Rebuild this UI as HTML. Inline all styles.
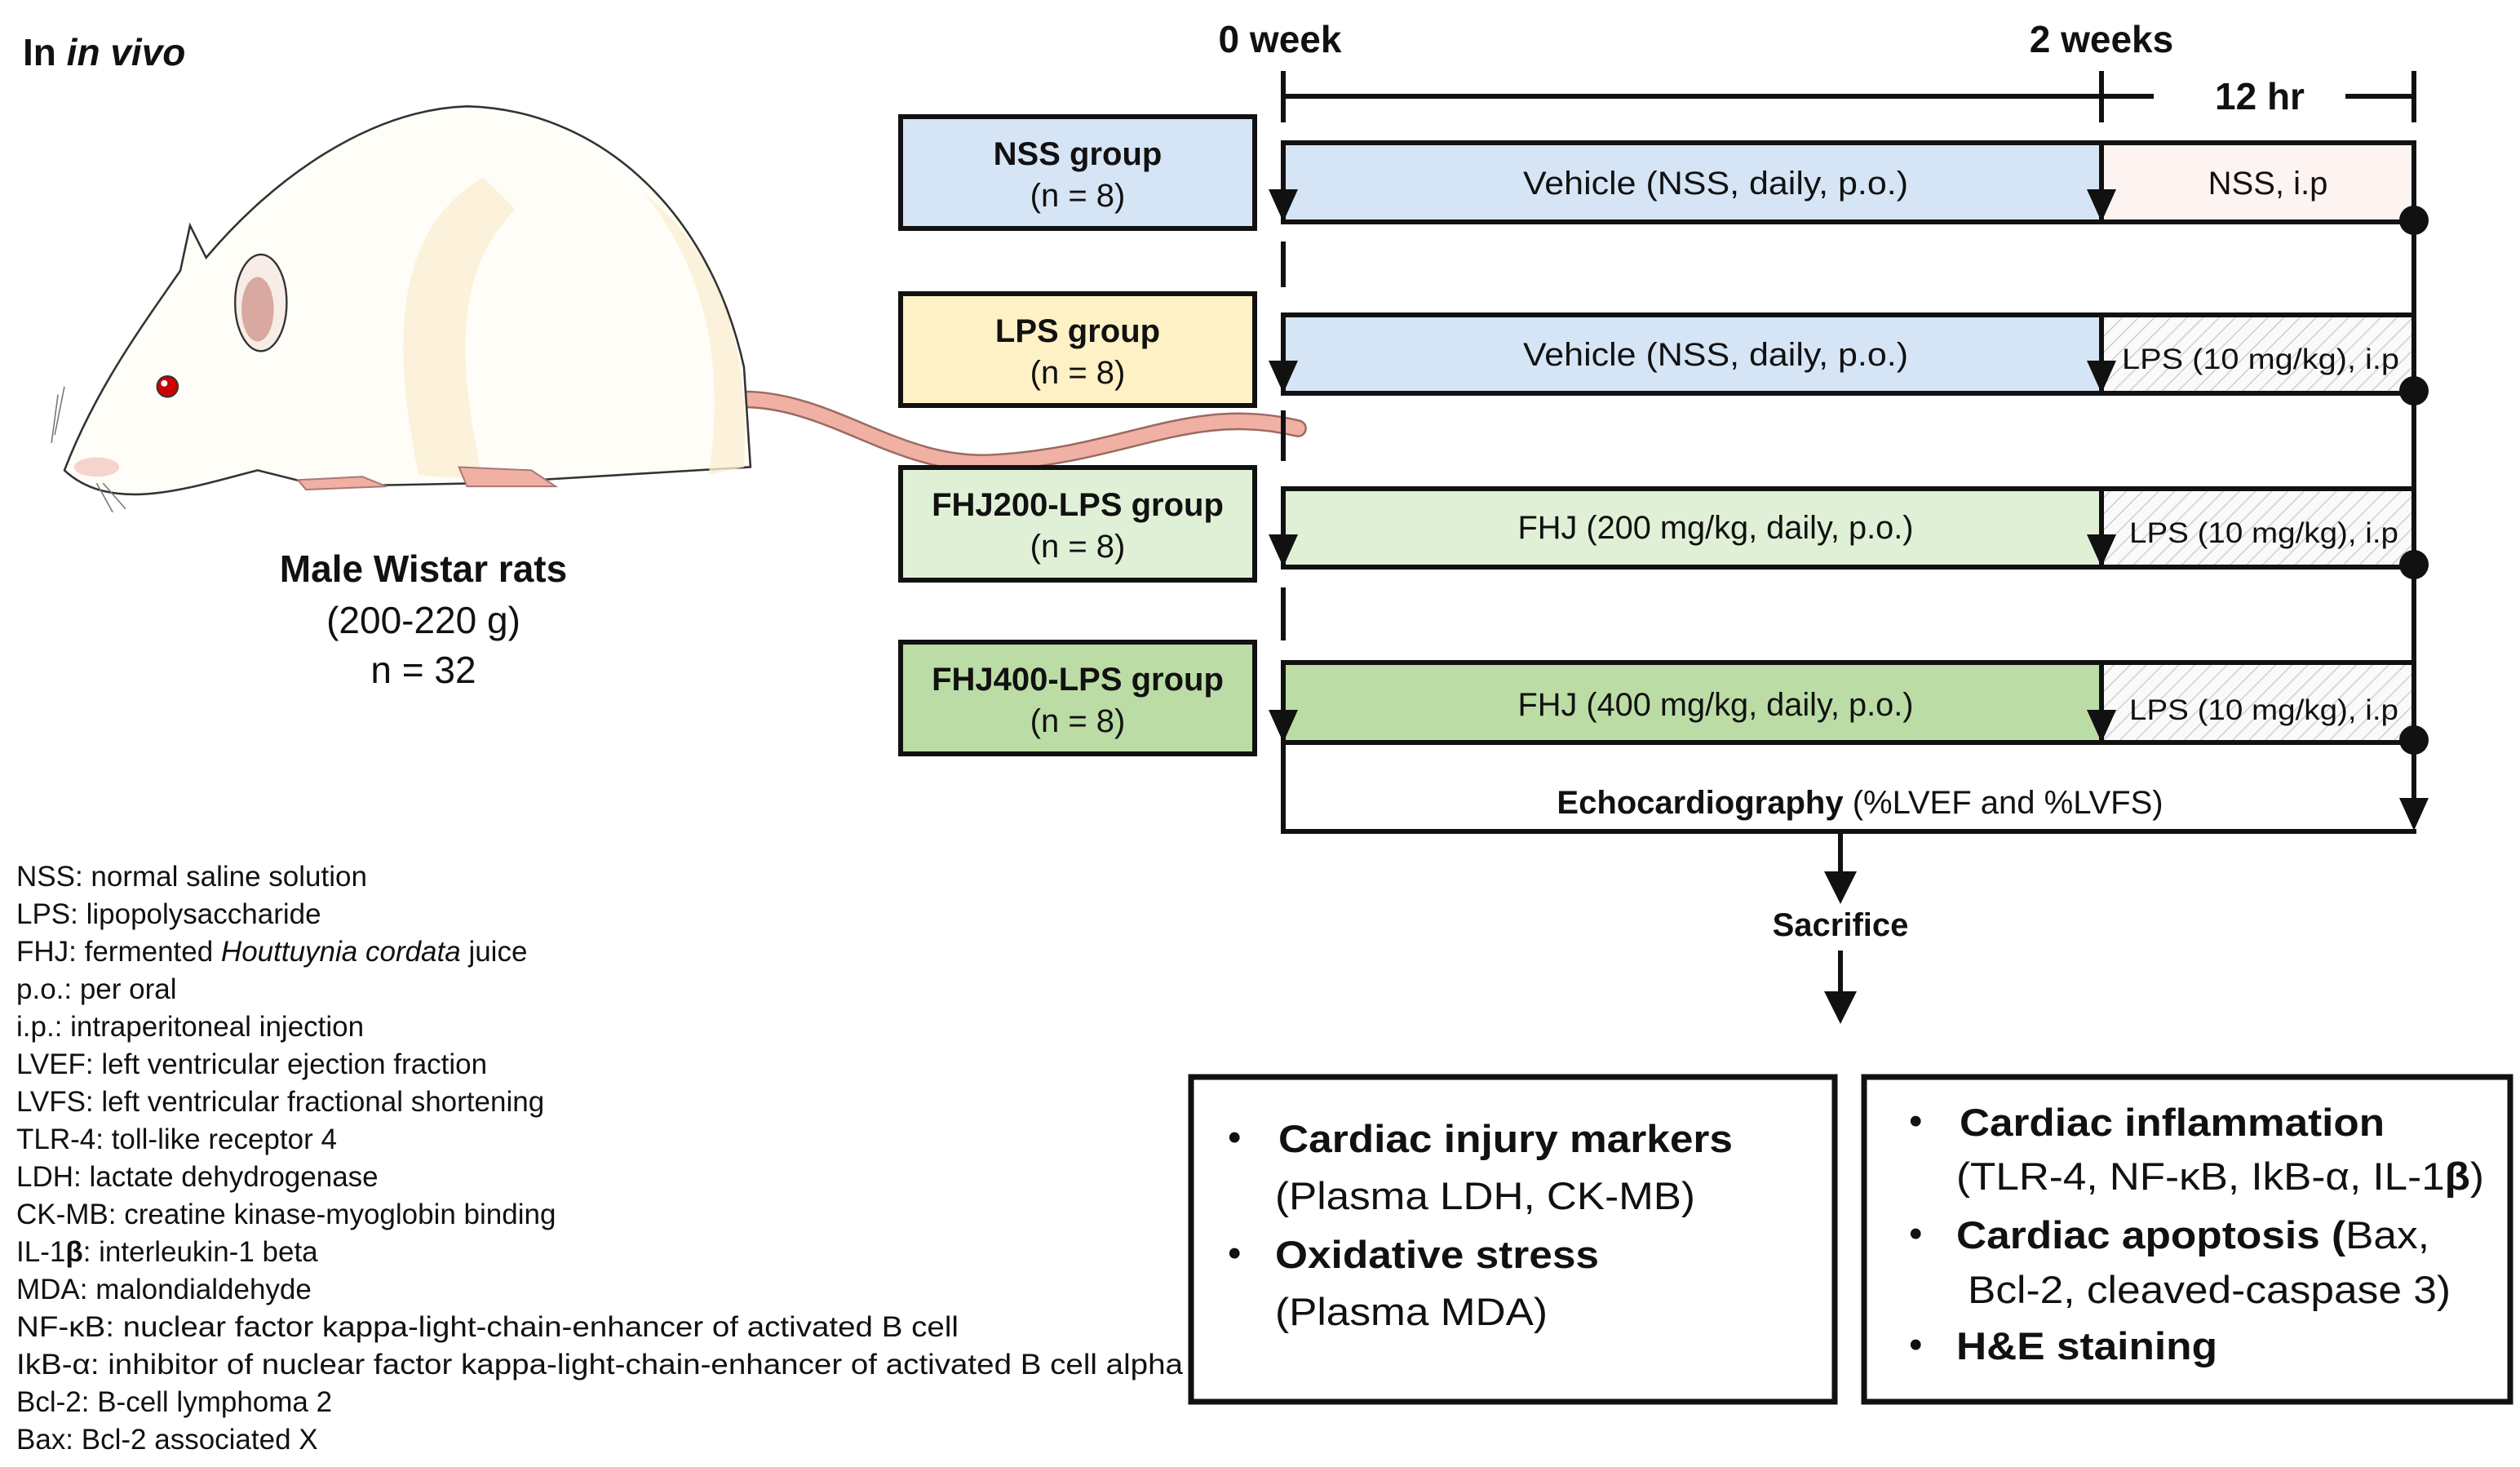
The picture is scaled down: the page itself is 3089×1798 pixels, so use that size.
<!DOCTYPE html>
<html><head><meta charset="utf-8"><style>
html,body{margin:0;padding:0;background:#fff}
svg{display:block}
text{font-family:"Liberation Sans",Arial,sans-serif;fill:#111}
.b{font-weight:bold}
</style></head><body>
<svg width="3089" height="1798" viewBox="0 0 3089 1798" xmlns="http://www.w3.org/2000/svg">
<defs>
<pattern id="hatch" width="14" height="14" patternUnits="userSpaceOnUse" patternTransform="rotate(45)">
<rect width="14" height="14" fill="#fafafa"/><line x1="0" y1="0" x2="0" y2="14" stroke="#cfcfcf" stroke-width="3"/>
</pattern>
</defs>

<text x="28" y="80" font-size="46" class="b">In <tspan font-style="italic">in vivo</tspan></text>

<!-- rat -->
<g transform="scale(1.974)">
<path d="M465,248 C520,250 560,292 620,287 C700,282 740,250 806,266" fill="none" stroke="#9a6a60" stroke-width="11" stroke-linecap="round"/>
<path d="M465,248 C520,250 560,292 620,287 C700,282 740,250 806,266" fill="none" stroke="#f0b0a3" stroke-width="8.5" stroke-linecap="round"/>
<path d="M40,292 C60,240 90,200 112,168 L118,140 L128,160 C170,110 230,68 290,66 C370,68 440,128 462,228 L466,290 L300,300 L200,302 L160,292 C120,302 70,320 40,292 Z" fill="#fffdf7" stroke="#333" stroke-width="1.3"/>
<path d="M300,110 C250,140 240,200 260,295 L300,298 C285,230 280,170 320,130 Z" fill="#fbefd3" opacity="0.8"/>
<path d="M400,120 C440,170 450,230 440,295 L462,290 C466,220 450,160 400,120 Z" fill="#fbefd3" opacity="0.8"/>
<ellipse cx="162" cy="188" rx="16" ry="30" fill="#f7ece6" stroke="#333" stroke-width="1.2"/>
<ellipse cx="160" cy="192" rx="10" ry="20" fill="#d9a8a0"/>
<circle cx="104" cy="240" r="6.5" fill="#c00" stroke="#333" stroke-width="1"/>
<circle cx="102" cy="238" r="2" fill="#fff"/>
<ellipse cx="60" cy="290" rx="14" ry="6" fill="#f6d3cc"/>
<path d="M185,298 L225,296 L240,302 L190,304 Z" fill="#f0b0a3" stroke="#a77" stroke-width="1"/>
<path d="M285,290 L330,292 L345,302 L290,302 Z" fill="#f0b0a3" stroke="#a77" stroke-width="1"/>
<path d="M40,240 L34,270 M36,245 L32,275 M60,300 L70,318 M64,300 L78,316" stroke="#777" stroke-width="0.8" fill="none"/>
</g>

<text x="519" y="713" font-size="46" class="b" text-anchor="middle">Male Wistar rats</text>
<text x="519" y="776" font-size="46" text-anchor="middle">(200-220 g)</text>
<text x="519" y="837" font-size="46" text-anchor="middle">n = 32</text>

<!-- group boxes -->
<g stroke="#111" stroke-width="6">
<rect x="1104" y="143" width="434" height="137" fill="#d6e5f5"/>
<rect x="1104" y="360" width="434" height="137" fill="#fdf1c5"/>
<rect x="1104" y="573" width="434" height="138" fill="#dff0d6"/>
<rect x="1104" y="787" width="434" height="137" fill="#bcdca5"/>
</g>
<g font-size="40" text-anchor="middle">
<text x="1321" y="202" class="b">NSS group</text><text x="1321" y="253">(n = 8)</text>
<text x="1321" y="419" class="b">LPS group</text><text x="1321" y="470">(n = 8)</text>
<text x="1321" y="632" class="b">FHJ200-LPS group</text><text x="1321" y="683">(n = 8)</text>
<text x="1321" y="846" class="b">FHJ400-LPS group</text><text x="1321" y="897">(n = 8)</text>
</g>

<!-- timeline header -->
<g font-size="46" class="b" text-anchor="middle">
<text x="1569" y="64">0 week</text>
<text x="2576" y="64">2 weeks</text>
<text x="2770" y="134">12 hr</text>
</g>
<g stroke="#111" stroke-width="6" fill="none">
<line x1="1573" y1="118" x2="2640" y2="118"/>
<line x1="2875" y1="118" x2="2959" y2="118"/>
<line x1="1573" y1="87" x2="1573" y2="150"/>
<line x1="2576" y1="87" x2="2576" y2="150"/>
<line x1="2959" y1="87" x2="2959" y2="150"/>
</g>

<!-- rows -->
<g stroke="#111" stroke-width="6">
<rect x="1573" y="175" width="1003" height="97" fill="#d6e5f5"/>
<rect x="2576" y="175" width="383" height="97" fill="#fdf3f0"/>
<rect x="1573" y="386" width="1003" height="96" fill="#d6e5f5"/>
<rect x="2576" y="386" width="383" height="96" fill="url(#hatch)"/>
<rect x="1573" y="599" width="1003" height="96" fill="#dff0d6"/>
<rect x="2576" y="599" width="383" height="96" fill="url(#hatch)"/>
<rect x="1573" y="812" width="1003" height="98" fill="#bcdca5"/>
<rect x="2576" y="812" width="383" height="98" fill="url(#hatch)"/>
</g>
<g font-size="40" text-anchor="middle">
<text x="2103" y="238" textLength="472" lengthAdjust="spacingAndGlyphs">Vehicle (NSS, daily, p.o.)</text>
<text x="2780" y="238">NSS, i.p</text>
<text x="2103" y="448" textLength="472" lengthAdjust="spacingAndGlyphs">Vehicle (NSS, daily, p.o.)</text>
<text x="2771" y="452" font-size="35" textLength="340" lengthAdjust="spacingAndGlyphs">LPS (10 mg/kg), i.p</text>
<text x="2103" y="660" textLength="485" lengthAdjust="spacingAndGlyphs">FHJ (200 mg/kg, daily, p.o.)</text>
<text x="2775" y="665" font-size="35" textLength="330" lengthAdjust="spacingAndGlyphs">LPS (10 mg/kg), i.p</text>
<text x="2103" y="877" textLength="485" lengthAdjust="spacingAndGlyphs">FHJ (400 mg/kg, daily, p.o.)</text>
<text x="2775" y="882" font-size="35" textLength="330" lengthAdjust="spacingAndGlyphs">LPS (10 mg/kg), i.p</text>
</g>

<!-- dashed / verticals -->
<g stroke="#111" stroke-width="6" fill="none">
<line x1="1573" y1="296" x2="1573" y2="352"/>
<line x1="1573" y1="503" x2="1573" y2="565"/>
<line x1="1573" y1="720" x2="1573" y2="785"/>
<line x1="1573" y1="910" x2="1573" y2="1019"/>
<line x1="1570" y1="1019" x2="2962" y2="1019"/>
<line x1="2959" y1="175" x2="2959" y2="1000"/>
<line x1="2256" y1="1019" x2="2256" y2="1075"/>
<line x1="2256" y1="1165" x2="2256" y2="1225"/>
</g>
<g fill="#111">
<path d="M1555,232 L1591,232 L1573,272 Z"/>
<path d="M2558,232 L2594,232 L2576,272 Z"/>
<path d="M1555,442 L1591,442 L1573,482 Z"/>
<path d="M2558,442 L2594,442 L2576,482 Z"/>
<path d="M1555,655 L1591,655 L1573,695 Z"/>
<path d="M2558,655 L2594,655 L2576,695 Z"/>
<path d="M1555,870 L1591,870 L1573,910 Z"/>
<path d="M2558,870 L2594,870 L2576,910 Z"/>
<path d="M2941,978 L2977,978 L2959,1018 Z"/>
<path d="M2236,1068 L2276,1068 L2256,1108 Z"/>
<path d="M2236,1215 L2276,1215 L2256,1255 Z"/>
<circle cx="2959" cy="270" r="18"/>
<circle cx="2959" cy="479" r="18"/>
<circle cx="2959" cy="692" r="18"/>
<circle cx="2959" cy="907" r="18"/>
</g>
<text x="2280" y="997" font-size="40" text-anchor="middle"><tspan class="b">Echocardiography</tspan> (%LVEF and %LVFS)</text>
<text x="2256" y="1147" font-size="40" class="b" text-anchor="middle">Sacrifice</text>

<!-- bottom boxes -->
<g stroke="#111" stroke-width="7" fill="#fff">
<rect x="1460" y="1320" width="789" height="398"/>
<rect x="2285" y="1320" width="792" height="398"/>
</g>
<g font-size="47">
<text x="1505" y="1410">•</text>
<text x="1567" y="1412" class="b" textLength="557" lengthAdjust="spacingAndGlyphs">Cardiac injury markers</text>
<text x="1563" y="1482" textLength="515" lengthAdjust="spacingAndGlyphs">(Plasma LDH, CK-MB)</text>
<text x="1505" y="1552">•</text>
<text x="1563" y="1554" class="b" textLength="397" lengthAdjust="spacingAndGlyphs">Oxidative stress</text>
<text x="1563" y="1624" textLength="334" lengthAdjust="spacingAndGlyphs">(Plasma MDA)</text>
<text x="2340" y="1390">•</text>
<text x="2402" y="1392" class="b" textLength="521" lengthAdjust="spacingAndGlyphs">Cardiac inflammation</text>
<text x="2398" y="1458" textLength="647" lengthAdjust="spacingAndGlyphs">(TLR-4, NF-κB, IkB-α, IL-1<tspan class="b">β</tspan>)</text>
<text x="2340" y="1528">•</text>
<text x="2398" y="1530" textLength="580" lengthAdjust="spacingAndGlyphs"><tspan class="b">Cardiac apoptosis (</tspan>Bax,</text>
<text x="2412" y="1597" textLength="592" lengthAdjust="spacingAndGlyphs">Bcl-2, cleaved-caspase 3)</text>
<text x="2340" y="1664">•</text>
<text x="2398" y="1666" class="b" textLength="320" lengthAdjust="spacingAndGlyphs">H&amp;E staining</text>
</g>

<!-- legend -->
<g font-size="35">
<text x="20" y="1086">NSS: normal saline solution</text>
<text x="20" y="1132">LPS: lipopolysaccharide</text>
<text x="20" y="1178">FHJ: fermented <tspan font-style="italic">Houttuynia cordata</tspan> juice</text>
<text x="20" y="1224">p.o.: per oral</text>
<text x="20" y="1270">i.p.: intraperitoneal injection</text>
<text x="20" y="1316">LVEF: left ventricular ejection fraction</text>
<text x="20" y="1362">LVFS: left ventricular fractional shortening</text>
<text x="20" y="1408">TLR-4: toll-like receptor 4</text>
<text x="20" y="1454">LDH: lactate dehydrogenase</text>
<text x="20" y="1500">CK-MB: creatine kinase-myoglobin binding</text>
<text x="20" y="1546">IL-1<tspan class="b">β</tspan>: interleukin-1 beta</text>
<text x="20" y="1592">MDA: malondialdehyde</text>
<text x="20" y="1638" textLength="1155" lengthAdjust="spacingAndGlyphs">NF-κB: nuclear factor kappa-light-chain-enhancer of activated B cell</text>
<text x="20" y="1684" textLength="1430" lengthAdjust="spacingAndGlyphs">IkB-α: inhibitor of nuclear factor kappa-light-chain-enhancer of activated B cell alpha</text>
<text x="20" y="1730">Bcl-2: B-cell lymphoma 2</text>
<text x="20" y="1776">Bax: Bcl-2 associated X</text>
</g>
</svg>
</body></html>
